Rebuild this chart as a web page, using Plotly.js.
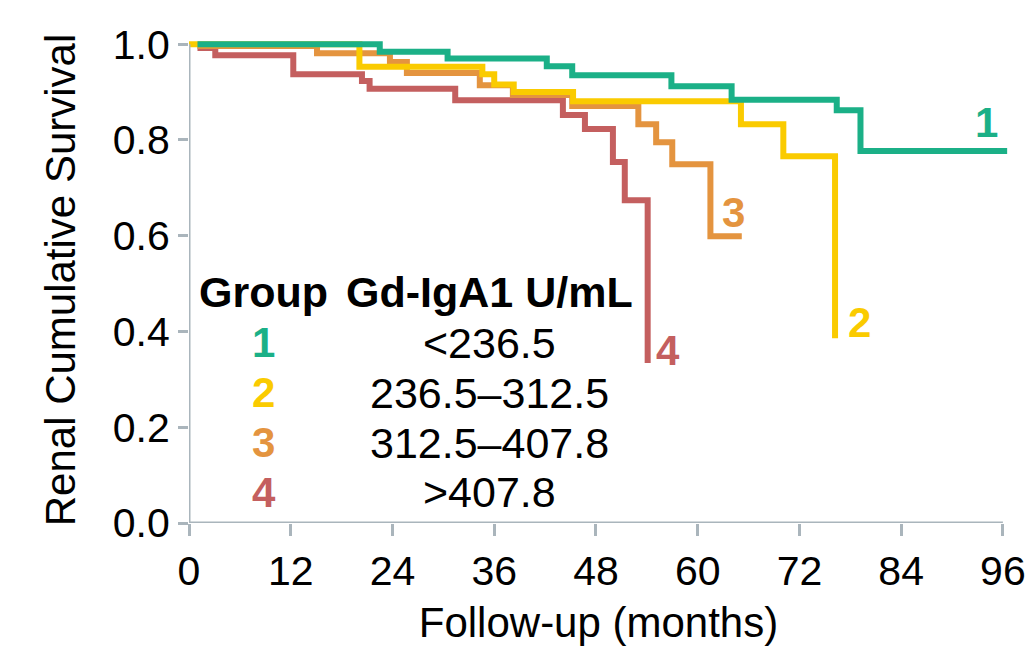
<!DOCTYPE html>
<html>
<head>
<meta charset="utf-8">
<script src="https://cdn.plot.ly/plotly-3.0.1.min.js"></script>
<style>html,body{margin:0;padding:0;background:#fff;}#chart{width:1027px;height:646px;}</style>
</head>
<body>
<div id="chart"></div>
<script>
// Kaplan-Meier step data (months, survival)
const months1 = [1, 22.5, 30.5, 42.2, 45.2, 56.9, 64.0, 76.4, 79.2, 96.5];
const surv1   = [1.0, 0.984, 0.970, 0.954, 0.935, 0.912, 0.884, 0.862, 0.777, 0.777];

const months2 = [0, 20.1, 34.6, 36.0, 38.3, 45.3, 65.1, 70.1, 76.2];
const surv2   = [1.0, 0.953, 0.937, 0.916, 0.900, 0.881, 0.833, 0.766, 0.386];

const months3 = [1, 15.1, 23.7, 25.7, 34.3, 38.2, 45.2, 53.0, 55.1, 57.0, 61.5, 65.2];
const surv3   = [0.996, 0.981, 0.963, 0.940, 0.914, 0.894, 0.871, 0.833, 0.795, 0.749, 0.599, 0.599];

const months4 = [1, 3.1, 12.3, 20.4, 21.3, 31.4, 44.1, 46.7, 50.0, 51.4, 54.1];
const surv4   = [0.992, 0.977, 0.937, 0.923, 0.907, 0.883, 0.852, 0.823, 0.754, 0.674, 0.334];

const groupLabels = ['1', '2', '3', '4'];
const rangeLabels = ['<236.5', '236.5\u2013312.5', '312.5\u2013407.8', '>407.8'];
const xTicks = [0, 12, 24, 36, 48, 60, 72, 84, 96];
const yTicks = [0, 0.2, 0.4, 0.6, 0.8, 1.0];

// curve-end label positions (data coords)
const endLabelX = [94.1, 79.1, 64.2, 56.5];
const endLabelY = [0.837, 0.418, 0.649, 0.361];

const colors = ['#1bb087', '#facb00', '#e4943f', '#c45f5f'];
const gray = '#aab5bc';
const FONT = 'Liberation Sans, Arial, sans-serif';

const series = [
  {x: months4, y: surv4, c: colors[3]},
  {x: months3, y: surv3, c: colors[2]},
  {x: months2, y: surv2, c: colors[1]},
  {x: months1, y: surv1, c: colors[0]}
];
const traces = series.map(s => ({
  x: s.x, y: s.y, type: 'scatter', mode: 'lines',
  line: {shape: 'hv', color: s.c, width: 6},
  hoverinfo: 'skip', showlegend: false
}));

const annotations = [];
// curve end labels
groupLabels.forEach((g, i) => {
  annotations.push({x: endLabelX[i], y: endLabelY[i], xref: 'x', yref: 'y', text: '<b>' + g + '</b>',
    showarrow: false, font: {family: FONT, size: 42, color: colors[i]}, xanchor: 'center', yanchor: 'middle'});
});
// legend table
const col1 = 8.8, col2 = 35.4;
const headerY = 0.482;
const rowY = [0.376, 0.272, 0.168, 0.064];
annotations.push({x: col1, y: headerY, xref: 'x', yref: 'y', text: '<b>Group</b>', showarrow: false,
  font: {family: FONT, size: 43, color: '#000'}, xanchor: 'center', yanchor: 'middle'});
annotations.push({x: col2, y: headerY, xref: 'x', yref: 'y', text: '<b>Gd-IgA1 U/mL</b>', showarrow: false,
  font: {family: FONT, size: 43, color: '#000'}, xanchor: 'center', yanchor: 'middle'});
groupLabels.forEach((g, i) => {
  annotations.push({x: col1, y: rowY[i], xref: 'x', yref: 'y', text: '<b>' + g + '</b>', showarrow: false,
    font: {family: FONT, size: 42, color: colors[i]}, xanchor: 'center', yanchor: 'middle'});
  annotations.push({x: col2, y: rowY[i], xref: 'x', yref: 'y', text: rangeLabels[i], showarrow: false,
    font: {family: FONT, size: 43, color: '#000'}, xanchor: 'center', yanchor: 'middle'});
});

const layout = {
  width: 1027, height: 646,
  margin: {l: 189, r: 19, t: 37, b: 123},
  paper_bgcolor: '#fff', plot_bgcolor: '#fff',
  font: {family: FONT, size: 42, color: '#000'},
  xaxis: {
    range: [0, 96.6], tickvals: xTicks, ticktext: xTicks.map(String),
    showgrid: false, zeroline: false, showline: false,
    ticks: 'outside', ticklen: 12, tickwidth: 3, tickcolor: gray,
    tickfont: {family: FONT, size: 41, color: '#000'},
    title: {text: 'Follow-up (months)', font: {family: FONT, size: 42, color: '#000'}, standoff: 16}
  },
  yaxis: {
    range: [0, 1.015], tickvals: yTicks, ticktext: yTicks.map(v => v.toFixed(1)),
    showgrid: false, zeroline: false, showline: false,
    ticks: 'outside', ticklen: 10, tickwidth: 3, tickcolor: gray,
    tickfont: {family: FONT, size: 41, color: '#000'},
    title: {text: 'Renal Cumulative Survival', font: {family: FONT, size: 42, color: '#000'}, standoff: 24}
  },
  shapes: [
    {type: 'line', xref: 'x', yref: 'y', x0: 0, x1: 96, y0: 0, y1: 0, line: {color: gray, width: 3}},
    {type: 'line', xref: 'x', yref: 'y', x0: 0, x1: 0, y0: 0, y1: 1, line: {color: gray, width: 3}}
  ],
  annotations: annotations
};

Plotly.newPlot('chart', traces, layout, {displayModeBar: false, staticPlot: true});
</script>
</body>
</html>
